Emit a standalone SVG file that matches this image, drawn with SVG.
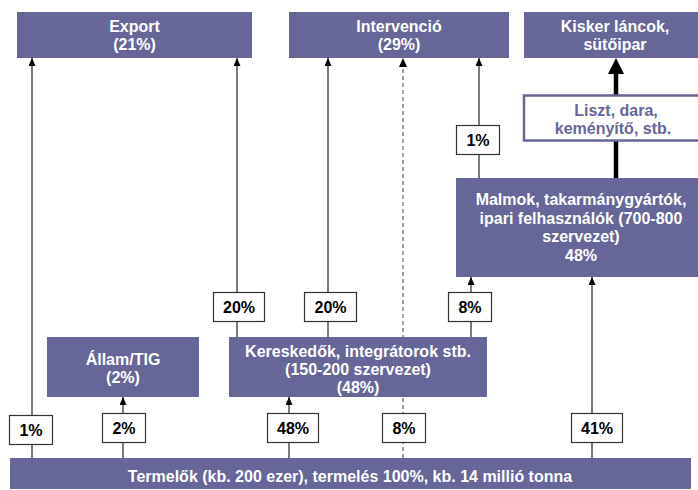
<svg xmlns="http://www.w3.org/2000/svg" width="698" height="490" viewBox="0 0 698 490">
<defs>
<style>
.node{fill:#666699}
.nt{fill:#ffffff;font-family:"Liberation Sans",Arial,sans-serif;font-weight:bold;font-size:16px;text-anchor:middle}
.pb{fill:#ffffff;stroke:#333333;stroke-width:1.2}
.pt{fill:#000000;font-family:"Liberation Sans",Arial,sans-serif;font-weight:bold;font-size:16px;text-anchor:middle}
.ln{stroke:#333333;stroke-width:1.3;fill:none}
.dash{stroke:#808080;stroke-width:1.5;stroke-dasharray:4 3;fill:none}
.thick{stroke:#000000;stroke-width:4.5;fill:none}
</style>
<marker id="arr" markerUnits="userSpaceOnUse" markerWidth="8" markerHeight="7" viewBox="0 0 8 7" refX="8" refY="3.5" orient="auto">
<path d="M0,0 L8,3.5 L0,7 z" fill="#000000"/>
</marker>
</defs>
<rect width="698" height="490" fill="#ffffff"/>

<g id="connectors">
<line class="dash" x1="403" y1="458" x2="403" y2="67"/>
<path d="M399,67 L403,58 L407,67 z" fill="#000000"/>
<line class="ln" x1="32" y1="458" x2="32" y2="58" marker-end="url(#arr)"/>
<line class="ln" x1="123" y1="458" x2="123" y2="397" marker-end="url(#arr)"/>
<line class="ln" x1="289" y1="458" x2="289" y2="397" marker-end="url(#arr)"/>
<line class="ln" x1="592" y1="458" x2="592" y2="277" marker-end="url(#arr)"/>
<line class="ln" x1="237" y1="337" x2="237" y2="58" marker-end="url(#arr)"/>
<line class="ln" x1="328" y1="337" x2="328" y2="58" marker-end="url(#arr)"/>
<line class="ln" x1="471" y1="337" x2="471" y2="277" marker-end="url(#arr)"/>
<line class="ln" x1="479" y1="178" x2="479" y2="58" marker-end="url(#arr)"/>
<line class="thick" x1="616" y1="178" x2="616" y2="72"/>
<path d="M608,74 L616,58 L624,74 z" fill="#000000"/>
</g>

<g id="export">
<rect class="node" x="17" y="12" width="235" height="46"/>
<text class="nt" x="134.5" y="32">Export</text>
<text class="nt" x="134.5" y="50">(21%)</text>
</g>
<g id="intervencio">
<rect class="node" x="289" y="12" width="220" height="46"/>
<text class="nt" x="399" y="32">Intervenció</text>
<text class="nt" x="399" y="50">(29%)</text>
</g>
<g id="kisker">
<rect class="node" x="524" y="12" width="182" height="46"/>
<text class="nt" x="615" y="32">Kisker láncok,</text>
<text class="nt" x="615" y="50">sütőipar</text>
</g>
<g id="liszt">
<rect x="524" y="95.5" width="182" height="45" fill="#ffffff" stroke="#666699" stroke-width="2.5"/>
<text class="nt" x="616" y="116" style="fill:#666699">Liszt, dara,</text>
<text class="nt" x="613" y="134" style="fill:#666699">keményítő, stb.</text>
</g>
<g id="malmok">
<rect class="node" x="456" y="178" width="250" height="99"/>
<text class="nt" x="581" y="205">Malmok, takarmánygyártók,</text>
<text class="nt" x="581" y="223.5">ipari felhasználók (700-800</text>
<text class="nt" x="581" y="242">szervezet)</text>
<text class="nt" x="581" y="260.5">48%</text>
</g>
<g id="allam">
<rect class="node" x="47" y="337" width="152" height="60"/>
<text class="nt" x="123" y="365">Állam/TIG</text>
<text class="nt" x="123" y="383">(2%)</text>
</g>
<g id="kereskedok">
<rect class="node" x="229" y="337" width="258" height="60"/>
<text class="nt" x="358" y="356.5">Kereskedők, integrátorok stb.</text>
<text class="nt" x="358" y="374.5">(150-200 szervezet)</text>
<text class="nt" x="358" y="392.5">(48%)</text>
</g>
<g id="termelok">
<rect class="node" x="10" y="458" width="681" height="31"/>
<text class="nt" x="350" y="482">Termelők (kb. 200 ezer), termelés 100%, kb. 14 millió tonna</text>
</g>

<g id="p1-bottom"><rect class="pb" x="9.5" y="415.5" width="43" height="29"/><text class="pt" x="31" y="436">1%</text></g>
<g id="p2"><rect class="pb" x="102.5" y="413.5" width="43" height="29"/><text class="pt" x="124" y="434">2%</text></g>
<g id="p48"><rect class="pb" x="267.5" y="413.5" width="51" height="29"/><text class="pt" x="293" y="434">48%</text></g>
<g id="p8-bottom"><rect class="pb" x="382.5" y="413.5" width="43" height="29"/><text class="pt" x="404" y="434">8%</text></g>
<g id="p41"><rect class="pb" x="571.5" y="413.5" width="51" height="29"/><text class="pt" x="597" y="434">41%</text></g>
<g id="p20-left"><rect class="pb" x="213.5" y="292.5" width="51" height="29"/><text class="pt" x="239" y="313">20%</text></g>
<g id="p20-right"><rect class="pb" x="304.5" y="292.5" width="52" height="29"/><text class="pt" x="330.5" y="313">20%</text></g>
<g id="p8-top"><rect class="pb" x="448.5" y="292.5" width="43" height="29"/><text class="pt" x="470" y="313">8%</text></g>
<g id="p1-top"><rect class="pb" x="456.5" y="125.5" width="43" height="29"/><text class="pt" x="478" y="146">1%</text></g>
</svg>
